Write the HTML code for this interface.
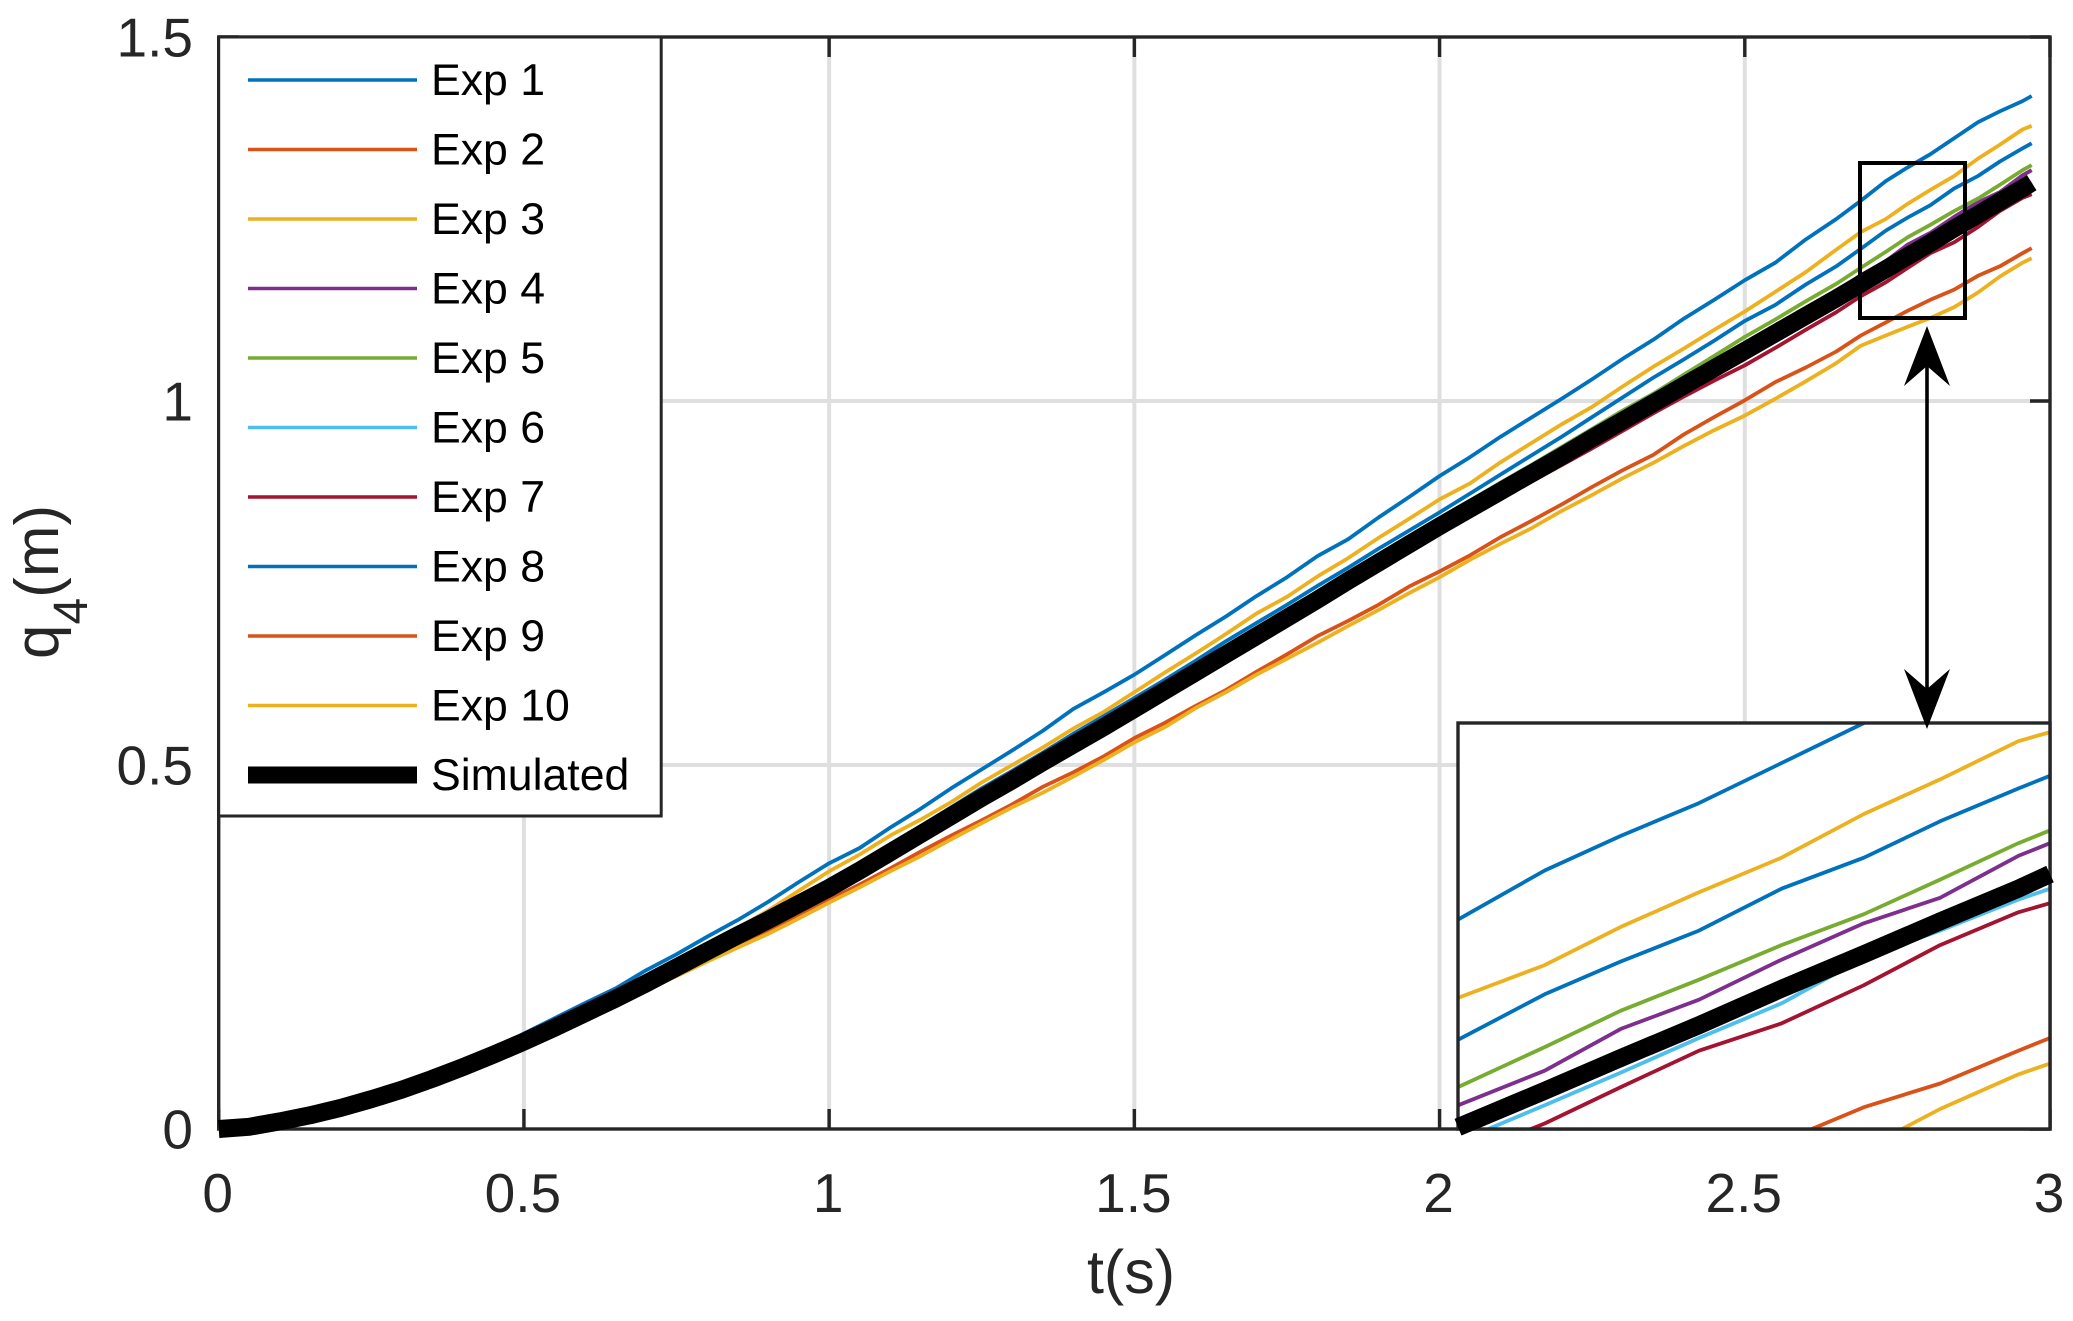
<!DOCTYPE html>
<html lang="en">
<head>
<meta charset="utf-8">
<title>q4 position over time: experiments versus simulation</title>
<style>
html,body{margin:0;padding:0;background:#fff;width:2073px;height:1321px;overflow:hidden}
svg{display:block;font-family:"Liberation Sans",Arial,sans-serif}
</style>
</head>
<body>
<svg id="chart" xmlns="http://www.w3.org/2000/svg" width="2073" height="1321" viewBox="0 0 2073 1321">
  <rect x="0" y="0" width="2073" height="1321" fill="#fff"/>
  <g id="grid"></g>
  <g id="axes"></g>
  <g id="mainSeries"></g>
  <g id="zoomBox"></g>
  <g id="inset"></g>
  <g id="arrow"></g>
  <g id="legend"></g>
  <text x="1131" y="1293" font-size="61" fill="#262626" text-anchor="middle">t(s)</text>
  <text transform="translate(58,659) rotate(-90)" font-size="62" fill="#262626">q<tspan font-size="48" dy="29">4</tspan><tspan dy="-29">(m)</tspan></text>
</svg>
<script>
// ---- chart data ----
const T = [0,0.05,0.1,0.15,0.2,0.25,0.3,0.35,0.4,0.45,
0.5,0.55,0.6,0.65,0.7,0.75,0.8,0.85,0.9,0.95,
1.0,1.05,1.1,1.15,1.2,1.25,1.3,1.35,1.4,1.45,
1.5,1.55,1.6,1.65,1.7,1.75,1.8,1.85,1.9,1.95,
2.0,2.05,2.1,2.15,2.2,2.25,2.3,2.35,2.4,2.45,
2.5,2.55,2.6,2.65,
2.69,2.731,2.767,2.804,2.843,2.882,2.918,2.955,2.97];
const exp1 = [0,0.003,0.0105,0.019,0.029,0.042,0.056,0.072,0.089,0.108,
0.131,0.152,0.173,0.193,0.218,0.24,0.264,0.287,0.312,0.339,
0.365,0.386,0.414,0.44,0.468,0.494,0.52,0.547,0.577,0.6,
0.624,0.651,0.678,0.704,0.732,0.758,0.787,0.81,0.84,0.868,
0.897,0.923,0.951,0.977,1.003,1.03,1.058,1.084,1.113,1.139,
1.166,1.19,1.222,1.25,
1.275,1.302,1.321,1.339,1.361,1.383,1.398,1.412,1.419];
const exp2 = [0,0.003,0.0105,0.019,0.029,0.041,0.054,0.069,0.085,0.102,
0.12,0.139,0.159,0.179,0.2,0.222,0.244,0.266,0.287,0.309,
0.331,0.355,0.38,0.405,0.43,0.455,0.479,0.504,0.528,0.552,
0.577,0.602,0.627,0.652,0.677,0.702,0.727,0.753,0.778,0.803,
0.828,0.852,0.876,0.9,0.924,0.949,0.973,0.997,1.021,1.045,
1.069,1.093,1.117,1.141,
1.161,1.181,1.199,1.217,1.237,1.256,1.274,1.292,1.3];
const exp3 = [0,0.003,0.0105,0.019,0.029,0.041,0.055,0.07,0.086,0.104,
0.123,0.143,0.164,0.185,0.206,0.229,0.252,0.276,0.3,0.327,
0.354,0.377,0.403,0.425,0.449,0.476,0.5,0.524,0.55,0.573,
0.6,0.627,0.653,0.68,0.708,0.731,0.759,0.784,0.812,0.838,
0.865,0.887,0.916,0.942,0.968,0.992,1.02,1.047,1.072,1.098,
1.123,1.15,1.177,1.208,
1.232,1.25,1.271,1.29,1.309,1.333,1.352,1.373,1.378];
const exp4 = [0,0.003,0.0105,0.019,0.029,0.041,0.054,0.069,0.085,0.102,
0.12,0.139,0.159,0.179,0.2,0.222,0.244,0.266,0.288,0.31,
0.332,0.356,0.381,0.406,0.431,0.456,0.48,0.505,0.53,0.554,
0.579,0.604,0.63,0.655,0.68,0.706,0.731,0.757,0.782,0.807,
0.833,0.857,0.881,0.905,0.93,0.955,0.979,1.003,1.028,1.052,
1.077,1.101,1.125,1.15,
1.173,1.192,1.215,1.231,1.253,1.273,1.287,1.31,1.317];
const exp5 = [0,0.003,0.0105,0.019,0.029,0.041,0.054,0.069,0.085,0.102,
0.12,0.139,0.159,0.18,0.201,0.223,0.245,0.267,0.288,0.311,
0.333,0.357,0.383,0.408,0.433,0.458,0.483,0.508,0.533,0.557,
0.583,0.608,0.634,0.659,0.685,0.71,0.736,0.762,0.787,0.813,
0.839,0.863,0.888,0.912,0.937,0.962,0.987,1.01,1.036,1.062,
1.088,1.112,1.137,1.161,
1.183,1.205,1.225,1.242,1.261,1.278,1.297,1.317,1.324];
const exp6 = [0,0.003,0.0105,0.019,0.029,0.041,0.054,0.069,0.085,0.102,
0.12,0.138,0.158,0.178,0.199,0.221,0.243,0.265,0.286,0.308,
0.33,0.354,0.379,0.404,0.429,0.453,0.477,0.502,0.526,0.55,
0.575,0.6,0.625,0.65,0.675,0.7,0.725,0.75,0.775,0.8,
0.825,0.849,0.873,0.896,0.92,0.944,0.968,0.992,1.016,1.04,
1.063,1.087,1.11,1.133,
1.153,1.173,1.191,1.21,1.229,1.254,1.269,1.286,1.292];
const exp7 = [0,0.003,0.0105,0.019,0.029,0.041,0.054,0.069,0.085,0.102,
0.12,0.138,0.157,0.177,0.198,0.22,0.242,0.263,0.284,0.305,
0.327,0.351,0.376,0.4,0.425,0.45,0.474,0.498,0.522,0.546,
0.571,0.595,0.62,0.645,0.67,0.695,0.72,0.745,0.77,0.794,
0.819,0.842,0.866,0.889,0.912,0.935,0.959,0.983,1.006,1.028,
1.049,1.073,1.098,1.122,
1.144,1.163,1.183,1.203,1.218,1.239,1.261,1.279,1.284];
const exp8 = [0,0.003,0.0105,0.019,0.029,0.041,0.055,0.07,0.086,0.104,
0.122,0.142,0.162,0.183,0.204,0.226,0.249,0.272,0.294,0.317,
0.34,0.365,0.391,0.416,0.442,0.468,0.492,0.517,0.543,0.567,
0.592,0.617,0.643,0.67,0.695,0.72,0.746,0.771,0.797,0.822,
0.847,0.873,0.899,0.925,0.951,0.978,1.005,1.032,1.057,1.083,
1.11,1.132,1.16,1.185,
1.209,1.234,1.252,1.269,1.292,1.309,1.329,1.347,1.354];
const exp9 = [0,0.003,0.0105,0.019,0.029,0.041,0.054,0.068,0.084,0.101,
0.118,0.136,0.155,0.174,0.193,0.213,0.233,0.253,0.272,0.293,
0.315,0.336,0.358,0.381,0.403,0.424,0.446,0.47,0.49,0.512,
0.537,0.558,0.581,0.603,0.628,0.652,0.677,0.698,0.72,0.745,
0.766,0.788,0.813,0.835,0.858,0.882,0.905,0.926,0.954,0.978,
1.001,1.026,1.046,1.068,
1.09,1.108,1.124,1.139,1.153,1.172,1.185,1.203,1.21];
const exp10 = [0,0.003,0.0105,0.019,0.029,0.04,0.053,0.067,0.083,0.1,
0.117,0.135,0.153,0.172,0.191,0.21,0.23,0.249,0.268,0.289,
0.311,0.332,0.354,0.375,0.398,0.42,0.442,0.462,0.484,0.507,
0.531,0.552,0.578,0.6,0.624,0.646,0.668,0.691,0.713,0.736,
0.758,0.782,0.804,0.825,0.849,0.871,0.894,0.915,0.938,0.96,
0.98,1.003,1.027,1.052,
1.076,1.09,1.102,1.114,1.129,1.149,1.171,1.19,1.196];
const simulated = [0,0.003,0.0105,0.019,0.029,0.041,0.054,0.069,0.085,0.102,
0.12,0.139,0.159,0.179,0.2,0.222,0.244,0.266,0.287,0.309,
0.331,0.355,0.38,0.405,0.43,0.455,0.479,0.504,0.528,0.552,
0.577,0.602,0.627,0.652,0.677,0.702,0.727,0.753,0.778,0.803,
0.828,0.852,0.876,0.9,0.924,0.949,0.973,0.997,1.021,1.045,
1.069,1.093,1.117,1.141,
1.161,1.181,1.199,1.217,1.237,1.256,1.274,1.292,1.3];
const seriesNames = ["Exp 1","Exp 2","Exp 3","Exp 4","Exp 5","Exp 6","Exp 7","Exp 8","Exp 9","Exp 10","Simulated"];
const xTicks = [0,0.5,1,1.5,2,2.5,3];
const xTickLabels = ["0","0.5","1","1.5","2","2.5","3"];
const yTicks = [0,0.5,1,1.5];
const yTickLabels = ["0","0.5","1","1.5"];
const insetDomainT = [2.69,2.97];
const insetDomainY = [1.16,1.383];

// ---- layout ----
const NS = "http://www.w3.org/2000/svg";
const plot = {l:218.7, r:2050, t:37, b:1129};
const insetBox = {l:1458, r:2050, t:723, b:1129};
const colors = ["#0072BD","#D95319","#EDB120","#7E2F8E","#77AC30","#4DBEEE","#A2142F","#0072BD","#D95319","#EDB120","#000000"];
const allSeries = [exp1,exp2,exp3,exp4,exp5,exp6,exp7,exp8,exp9,exp10,simulated];
const sx = v => plot.l + (v/3)*(plot.r-plot.l);
const sy = v => plot.b - (v/1.5)*(plot.b-plot.t);
const ix = v => insetBox.l + (v-insetDomainT[0])/(insetDomainT[1]-insetDomainT[0])*(insetBox.r-insetBox.l);
const iy = v => insetBox.b - (v-insetDomainY[0])/(insetDomainY[1]-insetDomainY[0])*(insetBox.b-insetBox.t);
function mk(tag, attrs, parent){
  const e = document.createElementNS(NS, tag);
  for (const k in attrs) e.setAttribute(k, attrs[k]);
  parent.appendChild(e);
  return e;
}
const AXC = "#262626";
const AXW = 3.4;
const TICK = 20;
const SIMW = 18;
const EXPW = 3.8;
const grid = document.getElementById("grid");
const axes = document.getElementById("axes");

// grid
xTicks.forEach(function(v,i){
  if (i===0 || i===xTicks.length-1) return;
  const el = mk("line",{x1:sx(v),x2:sx(v),y1:plot.t,y2:plot.b,stroke:"#dfdfdf","stroke-width":4},grid);
  
  
});
yTicks.forEach(function(v,i){
  if (i===0 || i===yTicks.length-1) return;
  const el = mk("line",{x1:plot.l,x2:plot.r,y1:sy(v),y2:sy(v),stroke:"#dfdfdf","stroke-width":4},grid);
  
  
});

// frame
const frame = mk("rect",{x:plot.l,y:plot.t,width:plot.r-plot.l,height:plot.b-plot.t,fill:"none",stroke:AXC,"stroke-width":AXW},axes);



// ticks and labels
xTicks.forEach(function(v,i){
  const x = sx(v);
  [[plot.b,plot.b-TICK],[plot.t,plot.t+TICK]].forEach(function(p){
    const tk = mk("line",{x1:x,x2:x,y1:p[0],y2:p[1],stroke:AXC,"stroke-width":AXW},axes);
    
    
  });
  const lb = mk("text",{x:x-1,y:1212,"font-size":55,fill:AXC,"text-anchor":"middle"},axes);
  
  
  lb.textContent = xTickLabels[i];
});
yTicks.forEach(function(v,i){
  const y = sy(v);
  [[plot.l,plot.l+TICK],[plot.r,plot.r-TICK]].forEach(function(p){
    const tk = mk("line",{x1:p[0],x2:p[1],y1:y,y2:y,stroke:AXC,"stroke-width":AXW},axes);
    
    
  });
  const lb = mk("text",{x:193,y:y+19.5,"font-size":55,fill:AXC,"text-anchor":"end"},axes);
  
  
  lb.textContent = yTickLabels[i];
});

// main series
const mainG = document.getElementById("mainSeries");
allSeries.forEach(function(vals,i){
  const pts = T.map(function(t,k){ return sx(t).toFixed(1)+","+sy(vals[k]).toFixed(1); }).join(" ");
  const line = mk("polyline",{points:pts,fill:"none",stroke:colors[i],"stroke-width":i===10?SIMW:EXPW,"stroke-linejoin":"round"},mainG);
  
  
});

// zoom rectangle
const zb = mk("rect",{x:1860,y:163,width:105,height:155,fill:"none",stroke:"#000","stroke-width":4},document.getElementById("zoomBox"));



// inset
const insetG = document.getElementById("inset");
const bg = mk("rect",{x:insetBox.l,y:insetBox.t,width:insetBox.r-insetBox.l,height:insetBox.b-insetBox.t,fill:"#fff"},insetG);


const defs = mk("defs",{},insetG);
const cp = mk("clipPath",{id:"insetClip"},defs);
mk("rect",{x:insetBox.l,y:insetBox.t,width:insetBox.r-insetBox.l,height:insetBox.b-insetBox.t},cp);
allSeries.forEach(function(vals,i){
  const parts = [];
  T.forEach(function(t,k){ if (t>=insetDomainT[0]) parts.push(ix(t).toFixed(1)+","+iy(vals[k]).toFixed(1)); });
  const attrs = {points:parts.join(" "),fill:"none",stroke:colors[i],"stroke-width":i===10?SIMW:EXPW,"stroke-linejoin":"round"};
  if (i!==10) attrs["clip-path"] = "url(#insetClip)";
  const line = mk("polyline",attrs,insetG);
  
  
});
const ibd = mk("rect",{x:insetBox.l,y:insetBox.t,width:insetBox.r-insetBox.l,height:insetBox.b-insetBox.t,fill:"none",stroke:AXC,"stroke-width":AXW},insetG);


insetG.appendChild(insetG.querySelectorAll("polyline")[10]);

// arrow
const arrowG = document.getElementById("arrow");
const ax = 1927, ay1 = 326, ay2 = 729;
const shaft = mk("line",{x1:ax,x2:ax,y1:ay1+20,y2:ay2-20,stroke:"#000","stroke-width":3.6},arrowG);


const headTop = mk("polygon",{points:[ax,ay1,ax+23,ay1+60,ax,ay1+40,ax-23,ay1+60].join(" "),fill:"#000"},arrowG);


const headBot = mk("polygon",{points:[ax,ay2,ax+23,ay2-60,ax,ay2-40,ax-23,ay2-60].join(" "),fill:"#000"},arrowG);



// legend
const lg = document.getElementById("legend");
const lbox = mk("rect",{x:plot.l,y:plot.t,width:442.5,height:779,fill:"#fff",stroke:AXC,"stroke-width":3},lg);


seriesNames.forEach(function(name,i){
  const y = 80 + i*69.5;
  const sw = mk("line",{x1:248,x2:417,y1:y,y2:y,stroke:colors[i],"stroke-width":i===10?17:3.6},lg);
  
  
  const tx = mk("text",{x:431,y:y+15,"font-size":44.6,fill:"#000"},lg);
  
  
  tx.textContent = name;
});
</script>
</body>
</html>
